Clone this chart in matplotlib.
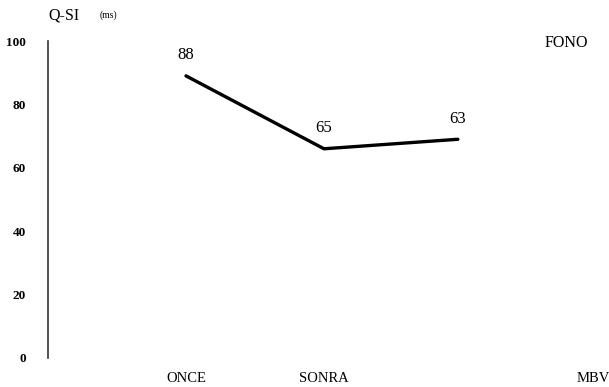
import matplotlib.pyplot as plt

# data
categories = ["ONCE", "SONRA", "MBV"]
cat_pos = [1, 2, 3.95]
x_vals = [1, 2, 2.97]
y_vals = [89, 66, 69]
point_labels = ["88", "65", "63"]
y_ticks = [0, 20, 40, 60, 80, 100]

plt.rcParams["font.family"] = ["Liberation Serif", "DejaVu Serif"]

fig = plt.figure(figsize=(6.09, 3.87), dpi=100)
ax = fig.add_axes([48 / 609, 1 - 358 / 387, 1 - 48 / 609, (358 - 41) / 387])

ax.plot(x_vals, y_vals, color="black", linewidth=2.4, solid_capstyle="round")

for x, y, lab in zip(x_vals, y_vals, point_labels):
    ax.text(x, y + 4, lab, ha="center", va="bottom", fontsize=12)

ax.set_xlim(0, (609 - 48) / 138)
ax.set_ylim(0, 100)

ax.set_yticks(y_ticks)
ax.set_yticklabels([str(t) for t in y_ticks], fontsize=9.5, fontweight="bold")
ax.tick_params(axis="y", length=0, pad=16)

ax.set_xticks(cat_pos)
ax.set_xticklabels(categories, fontsize=10.5)
ax.tick_params(axis="x", length=0, pad=10)
for lab in ax.get_xticklabels():
    lab.set_clip_on(False)

for side in ["top", "right", "bottom"]:
    ax.spines[side].set_visible(False)
ax.spines["left"].set_linewidth(1.2)
ax.spines["left"].set_color("#333333")

fig.text(48 / 609, 1 - 15 / 387, "Q-SI", fontsize=11.5, ha="left", va="center")
fig.text(100 / 609, 1 - 15 / 387, "(ms)", fontsize=7, ha="left", va="center")
fig.text(566 / 609, 1 - 43 / 387, "FONO", fontsize=11.5, ha="center", va="center")

fig.savefig("out.png", dpi=100)
